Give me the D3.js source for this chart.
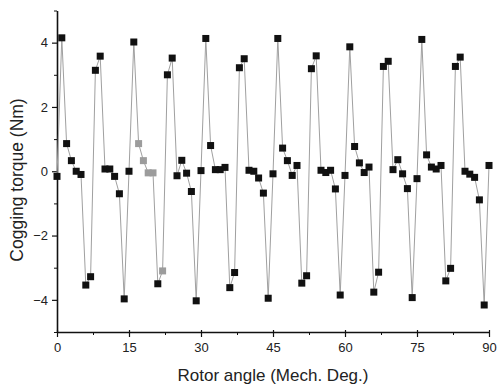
<!DOCTYPE html>
<html lang="en">
<head>
  <meta charset="UTF-8">
  <title>Cogging torque</title>
  <script src="https://d3js.org/d3.v7.min.js"></script>
  <style>
    body { margin: 0; background: #fff; }
    text { font-family: "Liberation Sans", Arial, sans-serif; fill: #222; }
    .axis path, .axis line { stroke: #111; }
  </style>
</head>
<body>

<svg width="497" height="389"></svg>

<script>
  // Rotor angle (deg) and cogging torque (Nm)
  var angles = d3.range(0, 91);
  var torque = [
    -0.16, 4.15, 0.86, 0.33, 0.0, -0.1, -3.54, -3.28, 3.14, 3.58,
    0.07, 0.07, -0.16, -0.7, -3.97, 0.0, 4.02, 0.86, 0.33, -0.05,
    -0.05, -3.5, -3.1, 3.0, 3.52, -0.14, 0.34, -0.06, -0.63, -4.03,
    0.02, 4.13, 0.8, 0.05, 0.05, 0.12, -3.62, -3.15, 3.22, 3.5,
    0.03, 0.0, -0.21, -0.68, -3.95, -0.08, 4.13, 0.72, 0.33, -0.13,
    0.18, -3.48, -3.25, 3.19, 3.59, 0.03, -0.04, 0.03, -0.55, -3.85,
    -0.13, 3.87, 0.77, 0.26, -0.04, 0.13, -3.76, -3.14, 3.26, 3.42,
    0.05, 0.36, -0.08, -0.54, -3.93, -0.23, 4.1, 0.51, 0.13, 0.07,
    0.18, -3.41, -3.02, 3.26, 3.55, 0.0, -0.09, -0.19, -0.89, -4.16,
    0.18
  ];
  // points that came out faded in the scan
  var faded = [17, 18, 19, 20, 22];

  var xTicks = [0, 15, 30, 45, 60, 75, 90];
  var xMinor = [7.5, 22.5, 37.5, 52.5, 67.5, 82.5];
  var yTicks = [-4, -2, 0, 2, 4];
  var yMinor = [-5, -3, -1, 1, 3, 5];

  var data = angles.map(function(a, i) { return { x: a, y: torque[i], i: i }; });

  var svg = d3.select("svg");

  var x = d3.scaleLinear().domain([0, 90]).range([57, 489]);
  var y = d3.scaleLinear().domain([-5, 5]).range([332, 10.5]);

  // minor ticks
  svg.append("g").attr("class", "axis")
    .attr("transform", "translate(0,332)")
    .call(d3.axisBottom(x).tickValues(xMinor).tickSize(3).tickFormat(""))
    .call(function(g) { g.select(".domain").remove(); });
  svg.append("g").attr("class", "axis")
    .attr("transform", "translate(57,0)")
    .call(d3.axisLeft(y).tickValues(yMinor).tickSize(3).tickFormat(""))
    .call(function(g) { g.select(".domain").remove(); });

  // x axis
  var xAxis = svg.append("g").attr("class", "axis")
    .attr("transform", "translate(0,332)")
    .call(d3.axisBottom(x).tickValues(xTicks).tickSize(5).tickSizeOuter(0).tickPadding(6));
  xAxis.select(".domain").attr("stroke-width", 1.6);
  xAxis.selectAll("line").attr("stroke-width", 1.2).attr("y1", -2);
  xAxis.selectAll("text").style("font-size", "13px").attr("fill", "#222");

  // y axis
  var yAxis = svg.append("g").attr("class", "axis")
    .attr("transform", "translate(57,0)")
    .call(d3.axisLeft(y).tickValues(yTicks).tickSize(5).tickSizeOuter(0).tickPadding(4));
  yAxis.select(".domain").attr("stroke-width", 1.6);
  yAxis.selectAll("line").attr("stroke-width", 1.2);
  yAxis.selectAll("text").style("font-size", "13px").attr("fill", "#222");

  // connecting line
  var line = d3.line()
    .x(function(d) { return x(d.x); })
    .y(function(d) { return y(d.y); });

  svg.append("path")
    .datum(data)
    .attr("d", line)
    .attr("fill", "none")
    .attr("stroke", "#a0a0a0")
    .attr("stroke-width", 1);

  // square markers
  var s = 7;
  svg.append("g").selectAll("rect")
    .data(data)
    .enter().append("rect")
      .attr("x", function(d) { return x(d.x) - s / 2; })
      .attr("y", function(d) { return y(d.y) - s / 2; })
      .attr("width", s)
      .attr("height", s)
      .attr("fill", function(d) { return faded.indexOf(d.i) >= 0 ? "#9c9c9c" : "#111"; });

  // axis titles
  svg.append("text")
    .attr("x", 273)
    .attr("y", 381)
    .attr("text-anchor", "middle")
    .style("font-size", "17px")
    .text("Rotor angle (Mech. Deg.)");

  svg.append("text")
    .attr("transform", "translate(23,180) rotate(-90)")
    .attr("text-anchor", "middle")
    .style("font-size", "17.5px")
    .text("Cogging torque (Nm)");
</script>

</body>
</html>
